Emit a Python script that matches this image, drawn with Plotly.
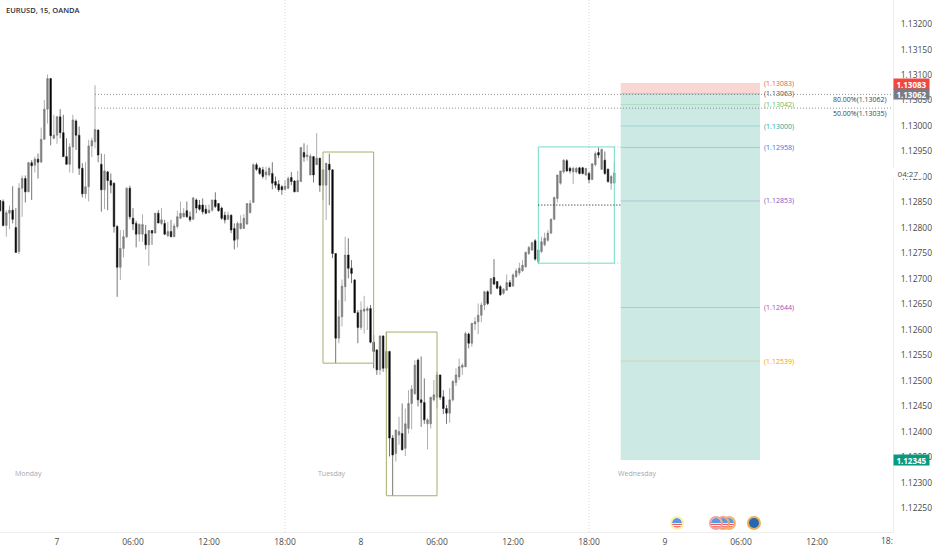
import pandas as pd
import plotly.graph_objects as go

times = pd.date_range("2022-02-06 19:30", periods=195, freq="15min")

opens = [
    1.12854, 1.12852, 1.12805, 1.12829, 1.12835, 1.12801, 1.12754, 1.12878, 1.12897, 1.12871,
    1.12928, 1.12923, 1.12935, 1.12929, 1.12974, 1.13033, 1.13093, 1.12976, 1.12982, 1.13018,
    1.12987, 1.12940, 1.12925, 1.12959, 1.13010, 1.12982, 1.12917, 1.12867, 1.12881, 1.12961,
    1.12969, 1.12992, 1.12925, 1.12875, 1.12910, 1.12893, 1.12888, 1.12803, 1.12723, 1.12760,
    1.12783, 1.12878, 1.12819, 1.12809, 1.12788, 1.12788, 1.12788, 1.12767, 1.12795, 1.12790,
    1.12829, 1.12809, 1.12809, 1.12785, 1.12793, 1.12783, 1.12803, 1.12819, 1.12822, 1.12834,
    1.12822, 1.12817, 1.12855, 1.12845, 1.12845, 1.12837, 1.12830, 1.12835, 1.12855, 1.12848,
    1.12839, 1.12825, 1.12817, 1.12825, 1.12799, 1.12778, 1.12799, 1.12799, 1.12808, 1.12830,
    1.12850, 1.12924, 1.12917, 1.12914, 1.12904, 1.12904, 1.12907, 1.12891, 1.12886, 1.12881,
    1.12876, 1.12878, 1.12899, 1.12892, 1.12871, 1.12891, 1.12948, 1.12940, 1.12904, 1.12940,
    1.12924, 1.12937, 1.12884, 1.12884, 1.12925, 1.12914, 1.12750, 1.12584, 1.12626, 1.12685,
    1.12747, 1.12721, 1.12698, 1.12634, 1.12605, 1.12637, 1.12638, 1.12642, 1.12576, 1.12561,
    1.12522, 1.12588, 1.12525, 1.12558, 1.12388, 1.12358, 1.12394, 1.12397, 1.12368, 1.12407,
    1.12456, 1.12475, 1.12541, 1.12463, 1.12458, 1.12416, 1.12416, 1.12463, 1.12468, 1.12512,
    1.12469, 1.12446, 1.12437, 1.12463, 1.12497, 1.12508, 1.12527, 1.12528, 1.12592, 1.12574,
    1.12612, 1.12616, 1.12629, 1.12649, 1.12675, 1.12671, 1.12703, 1.12695, 1.12685, 1.12672,
    1.12678, 1.12693, 1.12686, 1.12705, 1.12712, 1.12716, 1.12724, 1.12750, 1.12757, 1.12775,
    1.12734, 1.12754, 1.12767, 1.12776, 1.12790, 1.12817, 1.12858, 1.12888, 1.12910, 1.12932,
    1.12917, 1.12910, 1.12910, 1.12918, 1.12918, 1.12904, 1.12907, 1.12895, 1.12924, 1.12948,
    1.12915, 1.12933, 1.12915, 1.12888, 1.12888,
]
highs = [
    1.12855, 1.12856, 1.12835, 1.12844, 1.12882, 1.12839, 1.12888, 1.12903, 1.12903, 1.12930,
    1.12933, 1.12940, 1.12946, 1.12997, 1.13051, 1.13101, 1.13093, 1.13022, 1.13020, 1.13033,
    1.13022, 1.12976, 1.12966, 1.13022, 1.13013, 1.12999, 1.12927, 1.12929, 1.12973, 1.12977,
    1.13080, 1.12993, 1.12946, 1.12945, 1.12912, 1.12907, 1.12889, 1.12806, 1.12796, 1.12796,
    1.12880, 1.12883, 1.12839, 1.12814, 1.12809, 1.12827, 1.12806, 1.12796, 1.12796, 1.12829,
    1.12835, 1.12839, 1.12816, 1.12812, 1.12816, 1.12809, 1.12834, 1.12852, 1.12839, 1.12852,
    1.12832, 1.12861, 1.12858, 1.12855, 1.12858, 1.12845, 1.12846, 1.12855, 1.12870, 1.12848,
    1.12842, 1.12832, 1.12832, 1.12827, 1.12809, 1.12812, 1.12825, 1.12827, 1.12848, 1.12855,
    1.12927, 1.12928, 1.12920, 1.12920, 1.12920, 1.12920, 1.12929, 1.12901, 1.12894, 1.12884,
    1.12894, 1.12901, 1.12910, 1.12894, 1.12912, 1.12958, 1.12966, 1.12963, 1.12946, 1.12940,
    1.12986, 1.12937, 1.12914, 1.12927, 1.12946, 1.12915, 1.12750, 1.12659, 1.12699, 1.12783,
    1.12780, 1.12737, 1.12700, 1.12639, 1.12656, 1.12667, 1.12646, 1.12649, 1.12590, 1.12562,
    1.12590, 1.12590, 1.12597, 1.12559, 1.12394, 1.12404, 1.12430, 1.12456, 1.12446, 1.12482,
    1.12492, 1.12541, 1.12544, 1.12548, 1.12505, 1.12427, 1.12469, 1.12502, 1.12518, 1.12512,
    1.12482, 1.12453, 1.12486, 1.12502, 1.12525, 1.12544, 1.12535, 1.12597, 1.12595, 1.12614,
    1.12625, 1.12652, 1.12654, 1.12677, 1.12678, 1.12701, 1.12739, 1.12695, 1.12688, 1.12682,
    1.12709, 1.12698, 1.12711, 1.12721, 1.12732, 1.12737, 1.12754, 1.12765, 1.12773, 1.12778,
    1.12757, 1.12783, 1.12791, 1.12796, 1.12819, 1.12861, 1.12904, 1.12912, 1.12935, 1.12935,
    1.12920, 1.12920, 1.12920, 1.12920, 1.12920, 1.12917, 1.12910, 1.12927, 1.12950, 1.12958,
    1.12956, 1.12950, 1.12917, 1.12904, 1.12930,
]
lows = [
    1.12832, 1.12803, 1.12783, 1.12798, 1.12809, 1.12752, 1.12749, 1.12822, 1.12850, 1.12870,
    1.12855, 1.12909, 1.12897, 1.12929, 1.12973, 1.13005, 1.12962, 1.12974, 1.12965, 1.12976,
    1.12939, 1.12924, 1.12909, 1.12908, 1.12953, 1.12904, 1.12860, 1.12858, 1.12852, 1.12939,
    1.12956, 1.12929, 1.12832, 1.12837, 1.12835, 1.12868, 1.12791, 1.12665, 1.12698, 1.12742,
    1.12780, 1.12817, 1.12796, 1.12762, 1.12773, 1.12773, 1.12758, 1.12726, 1.12767, 1.12790,
    1.12809, 1.12806, 1.12786, 1.12782, 1.12782, 1.12782, 1.12799, 1.12818, 1.12821, 1.12820,
    1.12812, 1.12816, 1.12829, 1.12834, 1.12827, 1.12827, 1.12829, 1.12832, 1.12839, 1.12832,
    1.12816, 1.12809, 1.12816, 1.12790, 1.12758, 1.12762, 1.12797, 1.12799, 1.12806, 1.12829,
    1.12850, 1.12912, 1.12904, 1.12897, 1.12894, 1.12901, 1.12876, 1.12878, 1.12871, 1.12865,
    1.12873, 1.12876, 1.12884, 1.12870, 1.12871, 1.12891, 1.12930, 1.12932, 1.12904, 1.12889,
    1.12924, 1.12871, 1.12855, 1.12816, 1.12845, 1.12741, 1.12535, 1.12574, 1.12607, 1.12656,
    1.12701, 1.12692, 1.12633, 1.12574, 1.12600, 1.12593, 1.12600, 1.12574, 1.12525, 1.12512,
    1.12512, 1.12518, 1.12518, 1.12352, 1.12275, 1.12342, 1.12375, 1.12364, 1.12353, 1.12397,
    1.12405, 1.12473, 1.12450, 1.12410, 1.12416, 1.12366, 1.12407, 1.12460, 1.12446, 1.12463,
    1.12435, 1.12416, 1.12418, 1.12460, 1.12490, 1.12502, 1.12512, 1.12527, 1.12564, 1.12567,
    1.12600, 1.12592, 1.12615, 1.12639, 1.12649, 1.12669, 1.12688, 1.12680, 1.12667, 1.12669,
    1.12677, 1.12685, 1.12686, 1.12702, 1.12707, 1.12714, 1.12722, 1.12747, 1.12755, 1.12736,
    1.12729, 1.12751, 1.12764, 1.12773, 1.12788, 1.12816, 1.12850, 1.12885, 1.12907, 1.12910,
    1.12907, 1.12886, 1.12907, 1.12905, 1.12905, 1.12902, 1.12888, 1.12894, 1.12921, 1.12937,
    1.12914, 1.12904, 1.12889, 1.12875, 1.12887,
]
closes = [
    1.12834, 1.12805, 1.12830, 1.12835, 1.12817, 1.12752, 1.12878, 1.12897, 1.12871, 1.12928,
    1.12922, 1.12935, 1.12929, 1.12974, 1.13033, 1.13093, 1.12981, 1.12982, 1.13018, 1.12987,
    1.12940, 1.12925, 1.12959, 1.13012, 1.12982, 1.12917, 1.12867, 1.12881, 1.12961, 1.12971,
    1.12993, 1.12943, 1.12875, 1.12912, 1.12893, 1.12884, 1.12803, 1.12723, 1.12760, 1.12783,
    1.12878, 1.12822, 1.12808, 1.12788, 1.12807, 1.12807, 1.12767, 1.12795, 1.12790, 1.12829,
    1.12810, 1.12816, 1.12788, 1.12793, 1.12783, 1.12804, 1.12822, 1.12829, 1.12829, 1.12822,
    1.12816, 1.12859, 1.12839, 1.12837, 1.12832, 1.12829, 1.12835, 1.12855, 1.12842, 1.12834,
    1.12819, 1.12816, 1.12825, 1.12796, 1.12776, 1.12809, 1.12809, 1.12819, 1.12848, 1.12848,
    1.12924, 1.12915, 1.12907, 1.12901, 1.12910, 1.12917, 1.12888, 1.12884, 1.12875, 1.12875,
    1.12882, 1.12897, 1.12891, 1.12871, 1.12893, 1.12958, 1.12939, 1.12943, 1.12941, 1.12904,
    1.12937, 1.12884, 1.12914, 1.12927, 1.12914, 1.12750, 1.12584, 1.12626, 1.12686, 1.12747,
    1.12721, 1.12711, 1.12634, 1.12605, 1.12639, 1.12641, 1.12642, 1.12576, 1.12558, 1.12522,
    1.12588, 1.12525, 1.12558, 1.12388, 1.12355, 1.12404, 1.12401, 1.12365, 1.12416, 1.12456,
    1.12484, 1.12531, 1.12463, 1.12458, 1.12424, 1.12424, 1.12468, 1.12473, 1.12512, 1.12468,
    1.12446, 1.12437, 1.12463, 1.12499, 1.12512, 1.12528, 1.12531, 1.12593, 1.12574, 1.12613,
    1.12616, 1.12629, 1.12649, 1.12675, 1.12652, 1.12701, 1.12690, 1.12682, 1.12669, 1.12680,
    1.12693, 1.12685, 1.12708, 1.12716, 1.12721, 1.12727, 1.12752, 1.12762, 1.12771, 1.12739,
    1.12757, 1.12773, 1.12780, 1.12790, 1.12817, 1.12860, 1.12904, 1.12912, 1.12933, 1.12912,
    1.12912, 1.12917, 1.12917, 1.12907, 1.12907, 1.12917, 1.12895, 1.12926, 1.12946, 1.12943,
    1.12954, 1.12907, 1.12891, 1.12901, 1.12908,
]

price_ticks = [1.1225, 1.123, 1.1235, 1.124, 1.1245, 1.125, 1.1255, 1.126, 1.1265, 1.127, 1.1275,
               1.128, 1.1285, 1.129, 1.1295, 1.13, 1.1305, 1.131, 1.1315, 1.132]
time_ticks = ["2022-02-07 00:00", "2022-02-07 06:00", "2022-02-07 12:00", "2022-02-07 18:00",
              "2022-02-08 00:00", "2022-02-08 06:00", "2022-02-08 12:00", "2022-02-08 18:00",
              "2022-02-09 00:00", "2022-02-09 06:00", "2022-02-09 12:00"]
time_labels = ["7", "06:00", "12:00", "18:00", "8", "06:00", "12:00", "18:00", "9", "06:00", "12:00"]
session_lines = ["2022-02-07 18:00", "2022-02-08 18:00"]

fib_levels = [1.13083, 1.13063, 1.13042, 1.13000, 1.12958, 1.12853, 1.12644, 1.12539]
fib_colors = ["#ef5350", "#555555", "#66bb6a", "#26a69a", "#2979e8", "#7e57c2", "#ab47bc", "#ff9800"]
pos_start, pos_end = "2022-02-08 20:30", "2022-02-09 07:30"
stop, entry, target = 1.13083, 1.13063, 1.12345

W, H = 932, 550
AXIS_X, AXIS_Y = 893, 532
FONT = "Open Sans"
FINE_DOT = "1px,2px"
px = lambda v: v / W
py = lambda v: 1 - v / H

fig = go.Figure()
fig.add_trace(go.Candlestick(
    x=times, open=opens, high=highs, low=lows, close=closes,
    increasing=dict(line=dict(color="#777777", width=0.6), fillcolor="#808080"),
    decreasing=dict(line=dict(color="#1c1c1c", width=0.6), fillcolor="#000000"),
    whiskerwidth=0, showlegend=False, hoverinfo="skip",
))

def box(x0, x1, y0, y1, color, width=1):
    fig.add_shape(type="rect", x0=x0, x1=x1, y0=y0, y1=y1, line=dict(color=color, width=width))

def hline(x0, x1, y, color, width=1, dash="solid", opacity=1):
    fig.add_shape(type="line", x0=x0, x1=x1, y0=y, y1=y, opacity=opacity,
                  line=dict(color=color, width=width, dash=dash))

# session breaks
for t in session_lines:
    fig.add_shape(type="line", x0=t, x1=t, y0=0, y1=1, yref="y domain",
                  line=dict(color="#d8d8d8", width=1, dash=FINE_DOT), layer="below")

# position tool
fig.add_shape(type="rect", x0=pos_start, x1=pos_end, y0=entry, y1=stop,
              fillcolor="#fbd7d3", line_width=0, layer="below")
fig.add_shape(type="rect", x0=pos_start, x1=pos_end, y0=target, y1=entry,
              fillcolor="#cce9e4", line_width=0, layer="below")
for level, color in zip(fib_levels, fib_colors):
    hline(pos_start, pos_end, level, color, 0.6, opacity=0.45)
    fig.add_annotation(x=px(762), xref="paper", y=level, yref="y", xanchor="left", showarrow=False,
                       text=f"({level:.5f})", font=dict(family=FONT, size=7, color=color))

# marked zones
box("2022-02-07 21:00", "2022-02-08 01:00", 1.12949, 1.12535, "#a9ad6b")
box("2022-02-08 02:00", "2022-02-08 06:00", 1.12596, 1.12275, "#a9ad6b")
box("2022-02-08 14:00", "2022-02-08 20:00", 1.12959, 1.12731, "#72dcc4")
hline("2022-02-08 20:00", "2022-02-08 20:30", 1.12959, "#72dcc4", 1, FINE_DOT)
hline("2022-02-08 20:00", "2022-02-08 20:30", 1.12731, "#72dcc4", 1, FINE_DOT)
hline("2022-02-08 14:00", "2022-02-08 20:30", 1.12845, "#111111", 1, FINE_DOT)

# fib retracement lines
hline("2022-02-07 03:00", "2022-02-09 18:00", 1.13062, "#666666", 0.7, FINE_DOT)
hline("2022-02-07 03:00", "2022-02-09 18:00", 1.13035, "#666666", 0.7, FINE_DOT)
for level, label in [(1.13062, "80.00%(1.13062)"), (1.13035, "50.00%(1.13035)")]:
    fig.add_annotation(x=px(889), xref="paper", y=level, yref="y", xanchor="right", yanchor="top",
                       yshift=1, showarrow=False, text=label, font=dict(family=FONT, size=7, color="#444444"))

# title and day names
fig.add_annotation(x=px(4), y=py(10), xref="paper", yref="paper", xanchor="left", yanchor="middle", showarrow=False,
                   text="EURUSD, 15, OANDA", font=dict(family=FONT, size=7.5, color="#2a2e39", weight=600))
for cx, day in [(28, "Monday"), (332, "Tuesday"), (637, "Wednesday")]:
    fig.add_annotation(x=px(cx), y=py(473), xref="paper", yref="paper", xanchor="center", yanchor="middle",
                       showarrow=False, text=day, font=dict(family=FONT, size=7, color="#a5a8b0"))
fig.add_annotation(x=px(895), y=py(540), xref="paper", yref="paper", xanchor="right", yanchor="middle",
                   showarrow=False, text="18:", font=dict(family=FONT, size=8.5, color="#4a4a4a"))

# price tags on the axis
for level, color in [(1.13083, "#f0483e"), (1.13062, "#787b86"), (1.12345, "#089981")]:
    fig.add_annotation(x=px(AXIS_X), xref="paper", y=level, yref="y", xanchor="left", showarrow=False,
                       text=f"<b>{level:.5f}</b>", bgcolor=color, width=35, height=10, borderpad=0,
                       font=dict(family=FONT, size=8, color="white"))
fig.add_annotation(x=px(908), xref="paper", y=1.12906, yref="y", xanchor="center", showarrow=False, text="04:27",
                   bgcolor="white", width=30, height=9, borderpad=0,
                   font=dict(family=FONT, size=8, color="#4a4a4a"))

# event icons
def paper_shape(kind, x0, x1, y0, y1, **style):
    fig.add_shape(type=kind, xref="paper", yref="paper", x0=px(x0), x1=px(x1), y0=py(y0), y1=py(y1), **style)

def flag(cx, ring, fill="white"):
    cy = 523
    paper_shape("circle", cx - 6, cx + 6, cy + 6, cy - 6, fillcolor=fill, line_width=0)
    if fill == "white":
        paper_shape("circle", cx - 5, cx + 5, cy + 5, cy - 5, fillcolor="#5b9be0", line_width=0)
        paper_shape("rect", cx - 5, cx + 5, cy + 5, cy, fillcolor="white", line_width=0)
        paper_shape("rect", cx - 5, cx + 5, cy + 2, cy + 0.8, fillcolor="#ec5a5a", line_width=0)
        paper_shape("rect", cx - 4, cx + 4, cy + 4.5, cy + 3.2, fillcolor="#ec5a5a", line_width=0)
    paper_shape("circle", cx - 6, cx + 6, cy + 6, cy - 6, line=dict(color=ring, width=2))

flag(729, "#f7b36b")
flag(723, "#f7a26b")
flag(716, "#f6a0a0")
flag(677, "#fdf0a8")
flag(754, "#e8b15e", "#2a66ad")

fig.update_layout(
    width=W, height=H, margin=dict(l=0, r=0, t=0, b=0),
    paper_bgcolor="white", plot_bgcolor="white", hovermode=False,
    font=dict(family=FONT, size=8.5, color="#4a4a4a"),
    xaxis=dict(
        domain=[0, AXIS_X / W], type="date", range=["2022-02-06 19:30", "2022-02-09 18:00"],
        rangeslider=dict(visible=False), tickmode="array", tickvals=time_ticks, ticktext=time_labels,
        showgrid=False, zeroline=False, showline=True, linecolor="#eeeeee",
        ticks="outside", ticklen=2, tickcolor="white",
    ),
    yaxis=dict(
        domain=[1 - AXIS_Y / H, 1], side="right", range=[1.122039, 1.132471],
        tickmode="array", tickvals=price_ticks, ticktext=[f"{p:.5f}" for p in price_ticks],
        showgrid=False, zeroline=False, showline=True, linecolor="#eeeeee",
        ticks="outside", ticklen=5, tickcolor="white",
    ),
)

# the page's default body margin would shift everything by 8px
fig.write_html("out.html", config=dict(displayModeBar=False),
               post_script="document.body.style.margin='0';")
